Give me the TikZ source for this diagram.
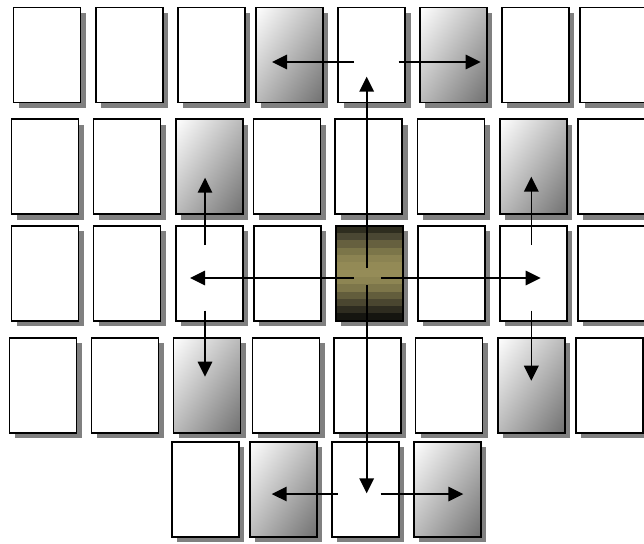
\documentclass[tikz,border=0pt]{standalone}
\usetikzlibrary{arrows.meta,shadows,shadings,calc}
\definecolor{shadowgray}{RGB}{128,128,128}
\definecolor{dkA}{RGB}{46,45,31}
\definecolor{dkB}{RGB}{74,71,51}
\definecolor{dkC}{RGB}{102,96,63}
\definecolor{dkD}{RGB}{123,117,73}
\definecolor{dkE}{RGB}{139,131,82}
\definecolor{dkF}{RGB}{147,138,86}
\definecolor{dkG}{RGB}{149,140,88}
\definecolor{dkH}{RGB}{141,133,83}
\definecolor{dkI}{RGB}{125,118,74}
\definecolor{dkJ}{RGB}{98,93,60}
\definecolor{dkK}{RGB}{74,70,48}
\definecolor{dkL}{RGB}{46,44,32}
\definecolor{dkM}{RGB}{21,21,16}
\begin{document}
\begin{tikzpicture}[x=1pt,y=-1pt,
  card/.style={rectangle, draw=black, line width=1.8pt, fill=white,
    minimum width=67pt, minimum height=95pt, inner sep=0pt, outer sep=0pt,
    drop shadow={shadow xshift=5.3pt, shadow yshift=-5.3pt, fill=shadowgray, opacity=1}},
  grad/.style={card, shade, upper left=white, upper right=black!27,
    lower left=black!27, lower right=black!56},
  arr/.style={-{Triangle[length=15pt,width=14.5pt]}, line width=1.6pt}]
\clip (0,0) rectangle (644,543);
% row 1
\foreach \x/\s [count=\i] in {47/card,129.3/card,211.3/card,289.3/grad,371.7/card,453.3/grad,535.3/card,613.3/card}
  \node[\s] (a\i) at (\x,55) {};
% row 2
\foreach \x/\s [count=\i] in {45/card,127/card,209.3/grad,287/card,368.7/card,451/card,533.3/grad,611.3/card}
  \node[\s] (b\i) at (\x,166.8) {};
% row 3
\foreach \x/\s [count=\i] in {45/card,127/card,209.3/card,287.3/card,369.3/card,451.3/card,533.3/card,611.3/card}
  \node[\s] (c\i) at (\x,273.3) {};
% row 4
\foreach \x/\s [count=\i] in {43/card,125/card,207/grad,286/card,367.3/card,449/card,531.3/grad,609.3/card}
  \node[\s] (d\i) at (\x,385.3) {};
% row 5
\foreach \x/\s [count=\i] in {205.3/card,283.3/grad,365.3/card,447.3/grad}
  \node[\s] (e\i) at (\x,489.3) {};
% dark centre card stripes
\foreach \c [count=\k from 0] in {dkA,dkB,dkC,dkD,dkE,dkF,dkG,dkH,dkI,dkJ,dkK,dkL,dkM} {
  \pgfmathsetmacro\ya{\k/13}
  \pgfmathsetmacro\yb{(\k+1)/13}
  \fill[\c] ($(c5.north west)!\ya!(c5.south west)$) rectangle ($(c5.north east)!\yb!(c5.south east)$);
}
\draw[line width=1.8pt] (c5.north west) rectangle (c5.south east);
% arrow end points
\coordinate (uS) at (366.7,268);   \coordinate (uT) at (366.7,76.7);
\coordinate (dS) at (366.7,285);   \coordinate (dT) at (366.7,493.3);
\coordinate (lS) at (354,278);     \coordinate (lT) at (190,278);
\coordinate (rS) at (381,278);     \coordinate (rT) at (540.7,278);
\coordinate (luS) at (205,245);    \coordinate (luT) at (205,177.7);
\coordinate (ldS) at (205,310.7);  \coordinate (ldT) at (205,376.7);
\coordinate (ruS) at (531.3,245);  \coordinate (ruT) at (531.3,176.7);
\coordinate (rdS) at (531.3,310.7);\coordinate (rdT) at (531.3,380.7);
\coordinate (tlS) at (354,62);     \coordinate (tlT) at (272,62);
\coordinate (trS) at (398.7,62);   \coordinate (trT) at (480.7,62);
\coordinate (blS) at (337.7,494);  \coordinate (blT) at (271.7,494);
\coordinate (brS) at (380.7,494);  \coordinate (brT) at (463.3,494);
\foreach \p in {u,d,l,r,lu,ld,ru,rd,tl,tr,bl,br}
  \draw[arr] (\p S) -- (\p T);
\end{tikzpicture}
\end{document}
